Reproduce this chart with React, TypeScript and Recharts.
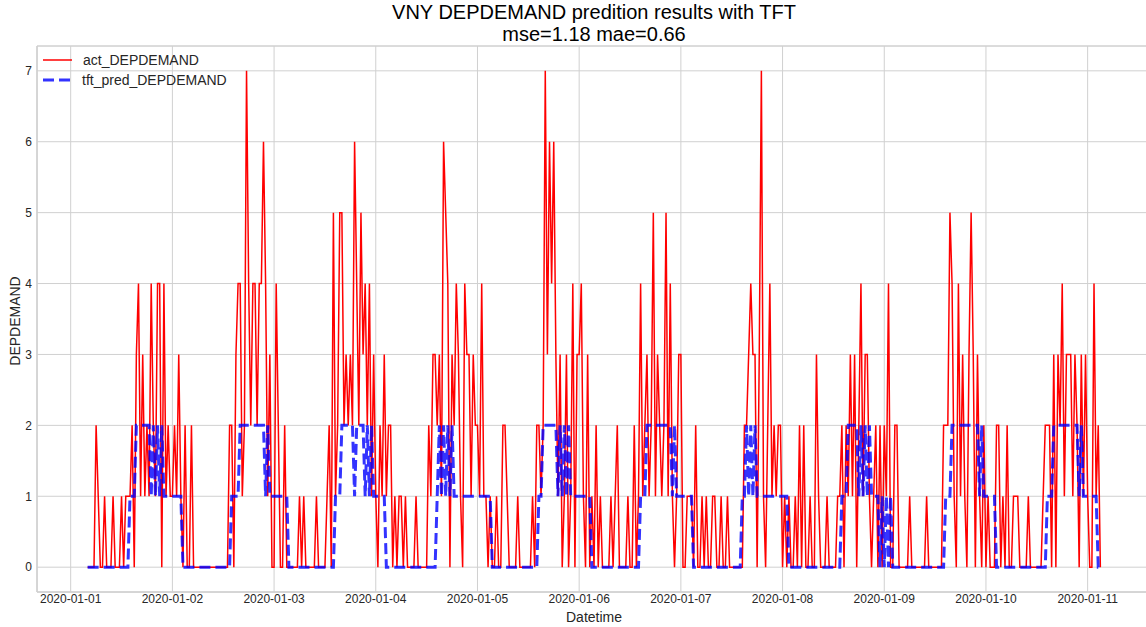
import { CartesianGrid, Line, LineChart, ReferenceArea, XAxis, YAxis } from "recharts";

// x-axis tick labels (one per day, midnight)
const dayLabels = [
	"2020-01-01", "2020-01-02", "2020-01-03", "2020-01-04", "2020-01-05", "2020-01-06",
	"2020-01-07", "2020-01-08", "2020-01-09", "2020-01-10", "2020-01-11",
];

// half-hour readings, one string per calendar day. the first day starts at 04:00,
// the last one stops at 03:00
const firstSlot = 8;

const actDays = [
	"0000 2100 1000 1000 1011 1203 4131 2142 1440 4121",
	"1213 1020 0200 0000 0000 0000 0002 2034 4127 4244 2446 4130",
	"0420 0200 0000 1010 0000 1000 0120 5125 5232 3264 2534 2413",
	"1021 3122 0101 1010 0001 0000 0213 3231 6540 3243 1043 3132",
	"2141 1010 0100 2210 0001 0000 0010 2212 7364 6313 0130 1403",
	"3410 3010 2010 0001 0120 0001 0020 1412 3125 1321 2514 1013",
	"3001 1102 0010 1001 1001 0010 0000 0022 3433 0371 0241 2122",
	"0101 0010 2020 0100 3100 0100 0011 2021 3130 2413 3101 2020",
	"2140 0220 0000 1000 0000 1000 0000 2225 4104 1310 3530 3102",
	"0100 0220 1020 0111 0000 1000 0001 2220 3032 4133 3132 0313",
	"1004 120",
];

const predDays = [
	"0000 0000 0000 0000 0000 1112 2222 2212 1212 1111",
	"1111 1000 0000 0000 0000 0000 0000 1111 2222 2222 2222 1211",
	"1111 1110 0000 0000 0000 0000 0000 0111 2222 2212 2221 2121",
	"1111 1000 0000 0000 0000 0000 0000 0121 2121 2111 1111 1111",
	"1111 1110 0000 0000 0000 0000 0000 0112 2222 2212 1212 1111",
	"1111 1100 0000 0000 0000 0000 0000 0111 2222 2222 2222 1211",
	"1111 1100 0000 0000 0000 0000 0000 0112 1212 1111 1111 1111",
	"1110 0000 0000 0000 0000 0000 0000 1112 2222 1212 1211 1101",
	"0101 0000 0000 0000 0000 0000 0000 0111 2222 2222 2222 2121",
	"1111 1000 0000 0000 0000 0000 0000 0111 2222 2222 2222 1211",
	"1111 100",
];

const yTicks = [0, 1, 2, 3, 4, 5, 6, 7];

const rows: { t: number; act: number; pred: number }[] = [];
actDays.forEach((day, d) => {
	const act = day.replace(/ /g, "");
	const pred = predDays[d].replace(/ /g, "");
	const offset = d === 0 ? firstSlot : 0;
	for (let i = 0; i < act.length; i++) {
		rows.push({ t: d + (i + offset) / 48, act: Number(act[i]), pred: Number(pred[i]) });
	}
});

// matplotlib-style 5% margins
const tMin = rows[0].t;
const tMax = rows[rows.length - 1].t;
const xPad = (tMax - tMin) * 0.05;
const xDomain = [tMin - xPad, tMax + xPad];
const yDomain = [-0.35, 7.35];

const font = "'Liberation Sans', Arial, sans-serif";
const textColor = "#262626";
const gridColor = "#d0d0d0";

const W = 1151;
const H = 627;

export default function App() {
	return (
		<div style={{ position: "absolute", left: 0, top: 0, width: 1146, height: H, overflow: "hidden", background: "#fff" }}>
			<div style={{ position: "relative", width: W, height: H, fontFamily: font }}>
				<div style={{ position: "absolute", left: 37, width: W - 37, top: 1, textAlign: "center", fontSize: 20, lineHeight: "22px", color: "#000" }}>
					VNY DEPDEMAND predition results with TFT
					<br />
					mse=1.18 mae=0.66
				</div>
				<LineChart width={W} height={H} data={rows} margin={{ top: 46, right: 0, bottom: 0, left: 0 }}>
					<CartesianGrid stroke={gridColor} strokeWidth={1} />
					<XAxis
						dataKey="t"
						type="number"
						domain={xDomain}
						ticks={dayLabels.map((_, i) => i)}
						tickFormatter={(v) => dayLabels[v] ?? ""}
						allowDataOverflow
						height={35}
						tickSize={0}
						tickMargin={2}
						axisLine={{ stroke: gridColor }}
						tick={{ fill: textColor, fontSize: 12, fontFamily: font }}
						interval={0}
					/>
					<YAxis
						type="number"
						domain={yDomain}
						ticks={yTicks}
						allowDataOverflow
						width={37}
						tickSize={0}
						tickMargin={5}
						axisLine={{ stroke: gridColor }}
						tick={{ fill: textColor, fontSize: 12, fontFamily: font }}
						interval={0}
					/>
					<ReferenceArea x1={xDomain[0]} x2={xDomain[1]} y1={yDomain[0]} y2={yDomain[1]} fill="none" stroke={gridColor} ifOverflow="visible" />
					<Line type="linear" dataKey="act" stroke="red" strokeWidth={1.5} dot={false} activeDot={false} isAnimationActive={false} />
					<Line
						type="linear"
						dataKey="pred"
						stroke="blue"
						strokeOpacity={0.8}
						strokeWidth={3}
						strokeDasharray="11 5"
						dot={false}
						activeDot={false}
						isAnimationActive={false}
					/>
				</LineChart>
				<div style={{ position: "absolute", left: 43, top: 50, fontSize: 14, color: textColor, lineHeight: "20px" }}>
					<div style={{ display: "flex", alignItems: "center" }}>
						<svg width={30} height={20}>
							<line x1={0} y1={10} x2={29} y2={10} stroke="red" strokeWidth={1.5} />
						</svg>
						<span style={{ marginLeft: 10 }}>act_DEPDEMAND</span>
					</div>
					<div style={{ display: "flex", alignItems: "center" }}>
						<svg width={30} height={20}>
							<line x1={0} y1={10} x2={29} y2={10} stroke="blue" strokeOpacity={0.8} strokeWidth={3} strokeDasharray="11 5" />
						</svg>
						<span style={{ marginLeft: 9 }}>tft_pred_DEPDEMAND</span>
					</div>
				</div>
				<div style={{ position: "absolute", left: 15, top: 321, transform: "translate(-50%, -50%) rotate(-90deg)", fontSize: 14, color: textColor, whiteSpace: "nowrap" }}>
					DEPDEMAND
				</div>
				<div style={{ position: "absolute", left: 594, top: 617, transform: "translate(-50%, -50%)", fontSize: 14, color: textColor, whiteSpace: "nowrap" }}>
					Datetime
				</div>
			</div>
		</div>
	);
}
